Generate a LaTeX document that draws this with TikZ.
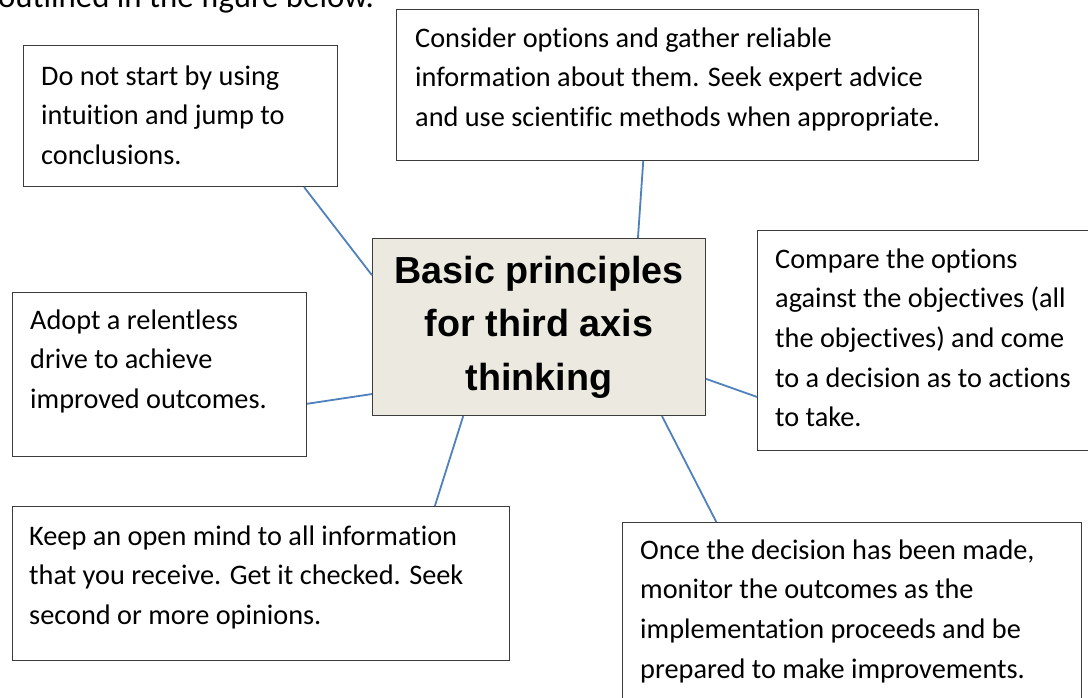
\documentclass[tikz,border=0pt]{standalone}
\usepackage{fontspec}
\setmainfont{Carlito}[RawFeature={-liga;-clig;-dlig;-calt}]
\newfontfamily\headfont{Liberation Sans}
\usetikzlibrary{calc}
\definecolor{linkblue}{HTML}{4F81BD}
\definecolor{corefill}{HTML}{ECEAE0}
\definecolor{edgegray}{HTML}{3C3C3C}
\begin{document}
\begin{tikzpicture}[x=1pt,y=-1pt,
  frame/.style={draw=edgegray, line width=1.1pt, fill=white, inner sep=0pt, anchor=north west},
  body/.style={inner sep=0pt, anchor=north west, align=left, font=\fontsize{28.3}{39.7}\selectfont},
  link/.style={draw=linkblue, line width=1.8pt}]
\useasboundingbox (0,0) rectangle (1088,697);
\clip (0,0) rectangle (1088,697);
\fill[white] (0,0) rectangle (1088,697);

% running text above the figure, partly off the page
\node[inner sep=0pt, anchor=base west, font=\fontsize{32.8}{40}\selectfont] (intro) at (-2,7) {outlined in the figure below.};

% surrounding boxes
\node[frame, minimum width=314pt, minimum height=141pt] (nojump) at (23,45) {};
\node[frame, minimum width=582pt, minimum height=151pt] (gather) at (396,9) {};
\node[frame, minimum width=331pt, minimum height=220pt] (compare) at (757,230) {};
\node[frame, minimum width=294pt, minimum height=164pt] (drive) at (12,292) {};
\node[frame, minimum width=497pt, minimum height=154pt] (openmind) at (12,506) {};
\node[frame, minimum width=459pt, minimum height=200pt] (monitor) at (622,522) {};

% central box
\node[frame, fill=corefill, minimum width=333pt, minimum height=177pt, align=center,
      font=\headfont\bfseries\fontsize{37.7}{53.5}\selectfont] (core) at (372,238)
      {Basic principles\\for third axis\\thinking};

% box texts
\node[body] (nojumpText) at (41,57.2) {\strut Do not start by using\\intuition and jump to\\conclusions.};
\node[body] (gatherText) at (415,19.2) {\strut Consider options and gather reliable\\information about them. Seek expert advice\\and use scientific methods when appropriate.};
\node[body] (compareText) at (775,240.2) {\strut Compare the options\\against the objectives (all\\the objectives) and come\\to a decision as to actions\\to take.};
\node[body] (driveText) at (30,301.2) {\strut Adopt a relentless\\drive to achieve\\improved outcomes.};
\node[body] (openmindText) at (29,517.2) {\strut Keep an open mind to all information\\that you receive. Get it checked. Seek\\second or more opinions.};
\node[body] (monitorText) at (640,531.2) {\strut Once the decision has been made,\\monitor the outcomes as the\\implementation proceeds and be\\prepared to make improvements.};

% connectors from the central box
\draw[link] ($(nojump.south west)!0.892!(nojump.south east)$) -- ($(core.north west)!0.209!(core.south west)$);
\draw[link] ($(gather.south west)!0.424!(gather.south east)$) -- ($(core.north west)!0.796!(core.north east)$);
\draw[link] ($(compare.north west)!0.755!(compare.south west)$) -- ($(core.north east)!0.791!(core.south east)$);
\draw[link] ($(drive.north east)!0.677!(drive.south east)$) -- ($(core.north west)!0.876!(core.south west)$);
\draw[link] ($(openmind.north west)!0.849!(openmind.north east)$) -- ($(core.south west)!0.273!(core.south east)$);
\draw[link] ($(monitor.north west)!0.205!(monitor.north east)$) -- ($(core.south west)!0.868!(core.south east)$);
\end{tikzpicture}
\end{document}
